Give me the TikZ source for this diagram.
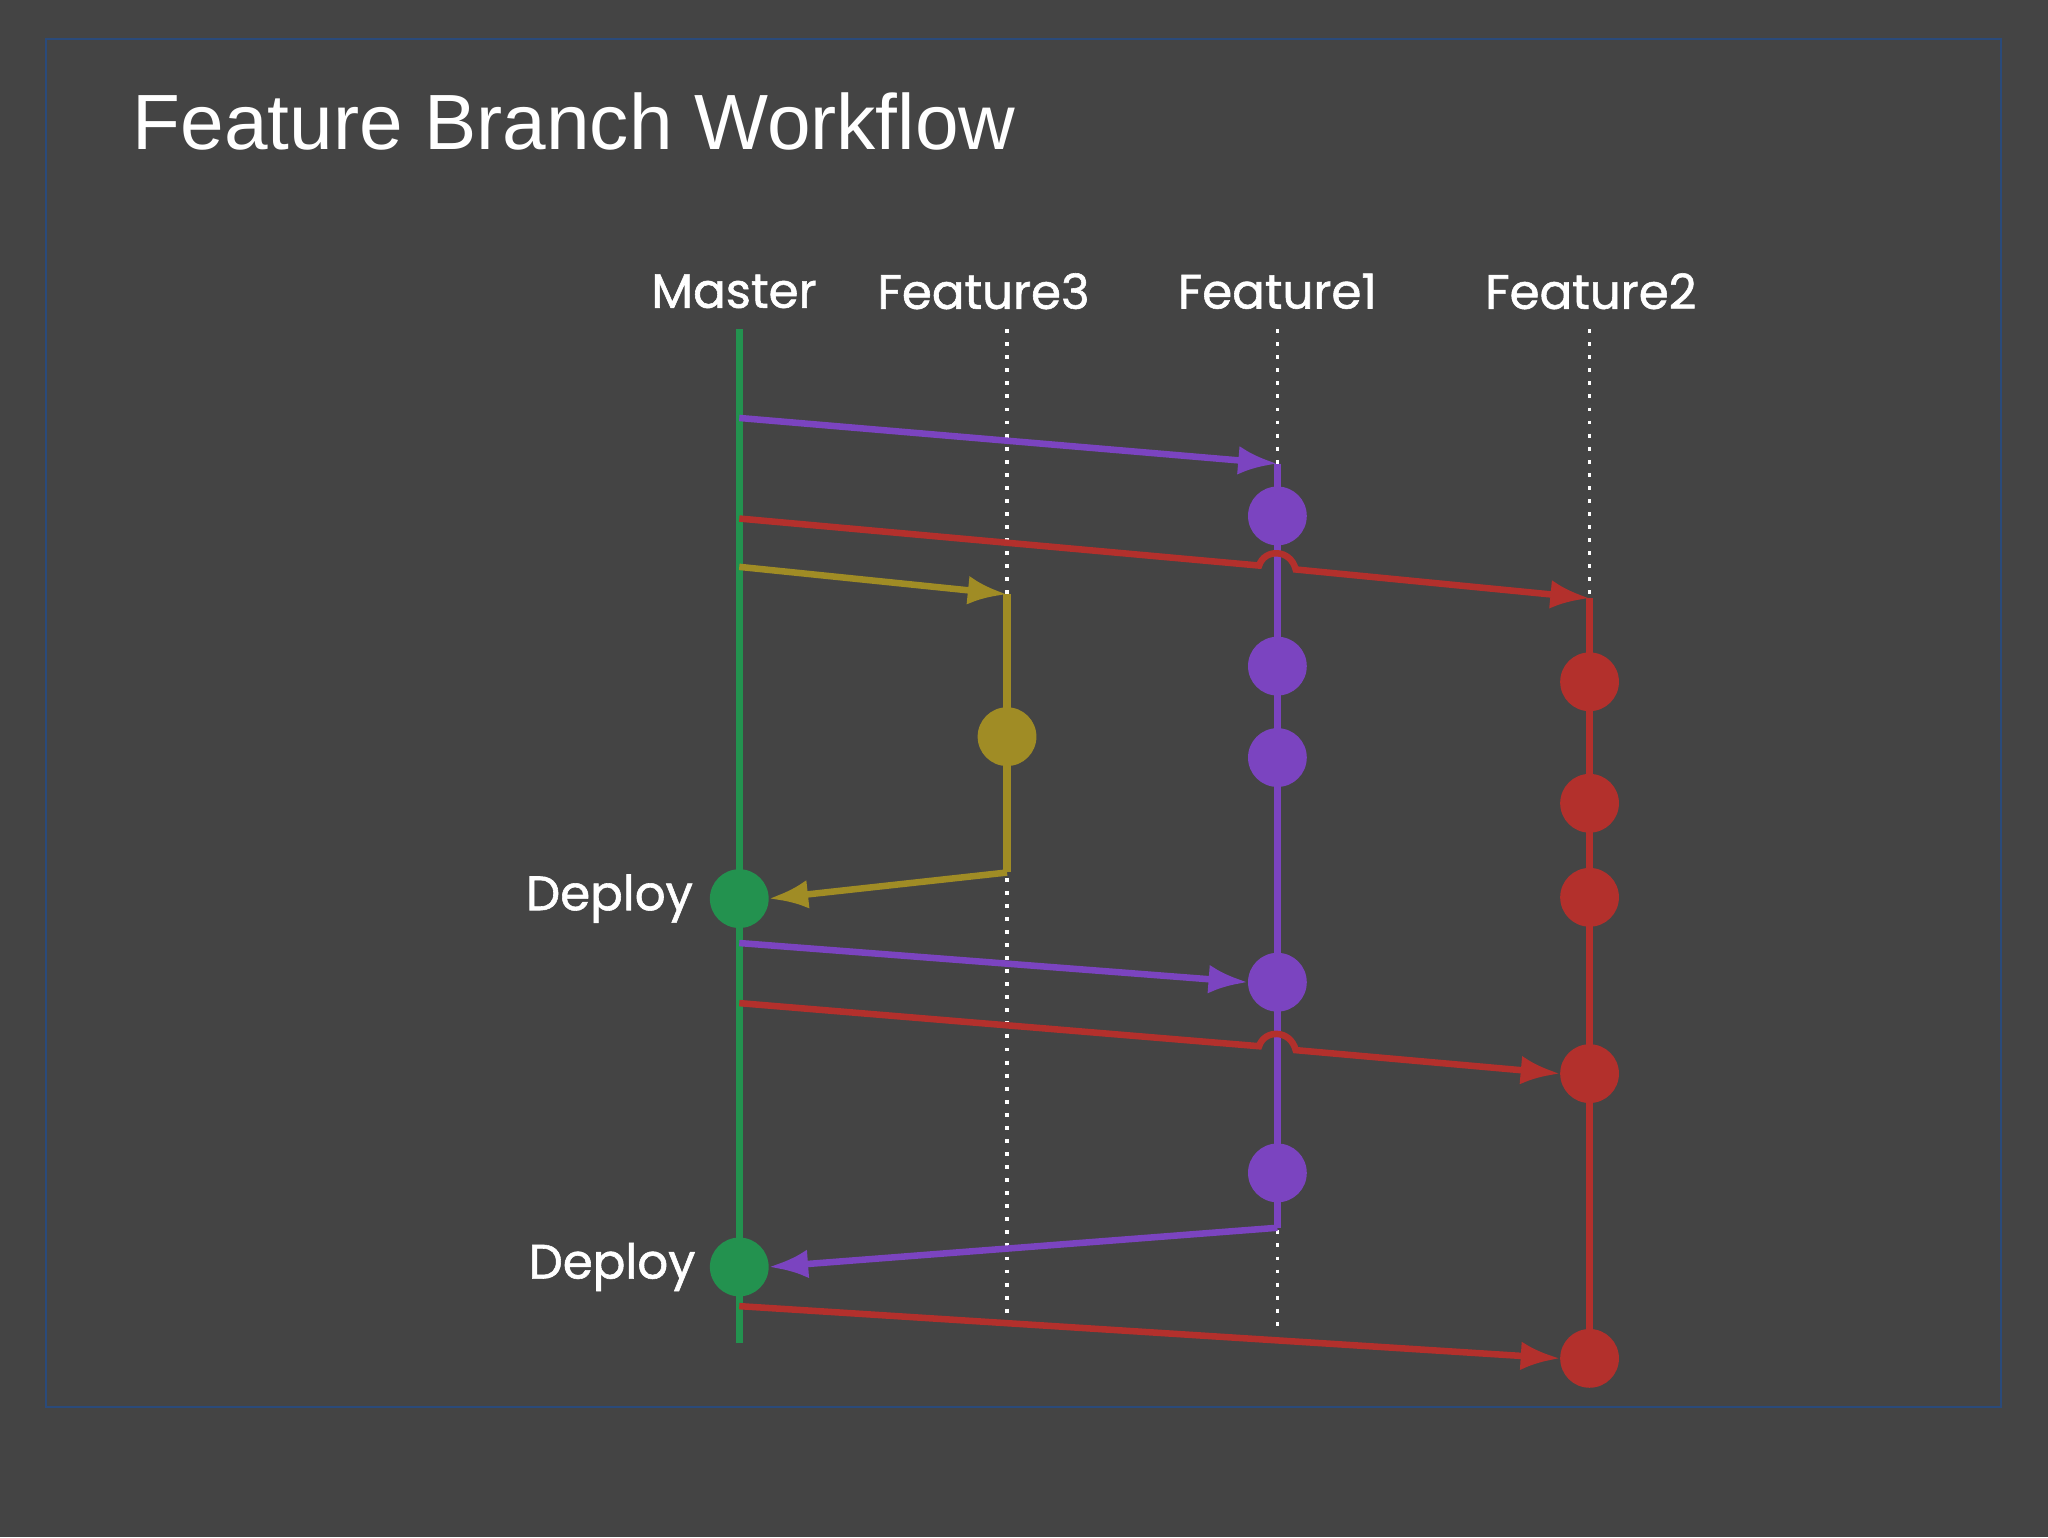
\documentclass[tikz,border=0pt]{standalone}
\usepackage{fontspec}
\setmainfont{Liberation Sans}
\newfontfamily\lblfont[FakeBold=1.2]{Poppins}
\usetikzlibrary{arrows.meta}
\definecolor{bgc}{HTML}{444444}
\definecolor{framec}{HTML}{2A4A7A}
\definecolor{mastc}{HTML}{23924F}
\definecolor{fonec}{HTML}{7B44C0}
\definecolor{ftwoc}{HTML}{B3302C}
\definecolor{fthrc}{HTML}{A08C25}
\tikzset{
  branch/.style={line width=5.5pt},
  merge/.style={line width=5pt,-{Latex[length=30pt,width=22pt]}},
  commit/.style={circle,fill=#1,minimum size=45pt,inner sep=0pt},
  guide/.style={white,line width=2.5pt,dash pattern=on 3pt off 7pt},
  lbl/.style={text=white,font=\lblfont\fontsize{37}{44}\selectfont}
}
\begin{document}
\begin{tikzpicture}[x=1pt,y=-1pt]
  % background & frame
  \fill[bgc] (0,0) rectangle (1568,1177);
  \useasboundingbox (0,0) rectangle (1568,1177);
  \draw[framec,line width=1.5pt] (35,30) rectangle (1532,1077);
  \node[anchor=west,text=white,font=\fontsize{60}{66}\selectfont] (title) at (98,93) {Feature Branch Workflow};
  % branch labels
  \node[lbl] (lmaster) at (562,223) {Master};
  \node[lbl] (lfthr) at (753,223) {Feature3};
  \node[lbl] (lfone) at (978,223) {Feature1};
  \node[lbl] (lftwo) at (1218,223) {Feature2};
  % guides
  \draw[guide] (771,252) -- (771,1020);
  \draw[guide] (978,252) -- (978,1020);
  \draw[guide] (1217,252) -- (1217,460);
  % master
  \coordinate (mtop) at (566,252);
  \coordinate (mbot) at (566,1028);
  \draw[branch,mastc] (mtop) -- (mbot);
  \node[commit=mastc] (dep1) at (566,688) {};
  \node[commit=mastc] (dep2) at (566,970) {};
  \node[lbl,anchor=east] at (534,688) {Deploy};
  \node[lbl,anchor=east] at (536,970) {Deploy};
  % feature1
  \coordinate (fonestart) at (978,355);
  \coordinate (foneend) at (978,940);
  \draw[branch,fonec] (fonestart) -- (foneend);
  \foreach \n/\y in {a/395,b/510,c/580,d/752,e/898}
    \node[commit=fonec] (fone\n) at (978,\y) {};
  % feature2
  \coordinate (ftwostart) at (1217,458);
  \draw[branch,ftwoc] (ftwostart) -- (1217,1040);
  \foreach \n/\y in {a/522,b/615,c/687,d/822,e/1040}
    \node[commit=ftwoc] (ftwo\n) at (1217,\y) {};
  % feature3
  \coordinate (fthrstart) at (771,455);
  \coordinate (fthrend) at (771,668);
  \draw[branch,fthrc] (fthrstart) -- (fthrend);
  \node[commit=fthrc] (fthra) at (771,564) {};
  % merges
  \coordinate (m1) at (566,320);
  \coordinate (m2) at (566,397);
  \coordinate (m3) at (566,434);
  \coordinate (m4) at (566,722);
  \coordinate (m5) at (566,768);
  \coordinate (m6) at (566,1000);
  \draw[merge,fonec] (m1) -- (fonestart);
  \draw[merge,fthrc] (m3) -- (fthrstart);
  \draw[merge,fthrc] (fthrend) -- (dep1.east);
  \draw[merge,fonec] (m4) -- (foned.west);
  \draw[merge,fonec] (foneend) -- (dep2.east);
  \draw[merge,ftwoc] (m2) -- (964,433) .. controls (968,420) and (988,420) .. (992,436) -- (ftwostart);
  \draw[merge,ftwoc] (m5) -- (964,801) .. controls (968,788) and (988,788) .. (992,804) -- (ftwod.west);
  \draw[merge,ftwoc] (m6) -- (ftwoe.west);
\end{tikzpicture}
\end{document}
